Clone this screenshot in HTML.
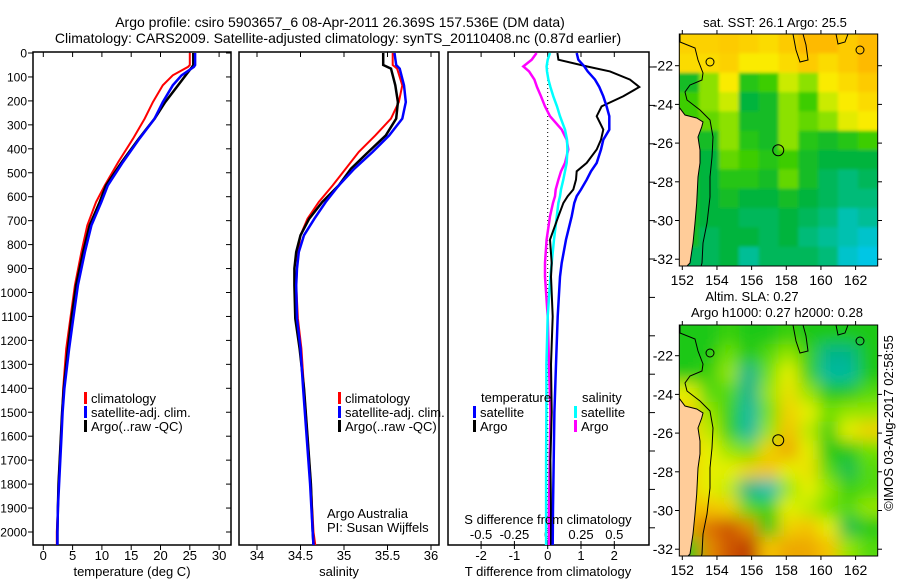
<!DOCTYPE html>
<html><head><meta charset="utf-8">
<style>
html,body{margin:0;padding:0;background:#fff;}
svg{display:block;font-family:"Liberation Sans",sans-serif;}
text{font-size:13px;fill:#000;}
</style></head>
<body>
<svg id="fig" width="900" height="580" viewBox="0 0 900 580" xmlns="http://www.w3.org/2000/svg">
<defs>
<clipPath id="c1"><rect x="33" y="52" width="198" height="493"/></clipPath>
<clipPath id="c2"><rect x="239" y="52" width="200" height="493"/></clipPath>
<clipPath id="c3"><rect x="448" y="52" width="201" height="493"/></clipPath>
<clipPath id="cm1"><rect x="679.3" y="34" width="198.4" height="232"/></clipPath>
<clipPath id="cm2"><rect x="679.3" y="325" width="198.4" height="231"/></clipPath>
<filter id="bl" x="-0.1" y="-0.1" width="1.2" height="1.2"><feGaussianBlur stdDeviation="8"/></filter>
<filter id="bl2" x="-0.1" y="-0.1" width="1.2" height="1.2"><feGaussianBlur stdDeviation="1.5"/></filter>
</defs>
<text x="340" y="27" text-anchor="middle" style="font-size:14px">Argo profile: csiro 5903657_6 08-Apr-2011 26.369S 157.536E (DM data)</text>
<text x="338" y="43" text-anchor="middle" style="font-size:14px">Climatology: CARS2009. Satellite-adjusted climatology: synTS_20110408.nc (0.87d earlier)</text>
<g id="p1"></g>
<g id="p2"></g>
<g id="p3"></g>
<g id="m1"></g>
<g id="m2"></g>
<text transform="translate(893,423) rotate(-90)" text-anchor="middle">©IMOS 03-Aug-2017 02:58:55</text>
</svg>
<script>
// ---- data ----
const tDepths = [0,50,58,93,135,205,274,358,455,553,623,720,831,970,1110,1235,1400,1500,1600,1700,1800,1900,2000,2055];
const tClim = [25.0,25.0,24.7,22.1,20.4,18.7,17.3,15.3,12.8,10.5,9.0,7.5,6.5,5.4,4.6,3.9,3.4,3.2,3.0,2.8,2.6,2.5,2.3,2.3];
const tSat = [25.9,25.9,25.7,23.6,22.1,20.4,19.0,16.4,13.6,11.0,9.9,8.2,7.1,5.9,5.1,4.4,3.6,3.3,3.1,2.9,2.7,2.5,2.4,2.4];
const tArgo = [25.6,25.6,25.4,24.3,23.0,20.8,19.0,16.3,13.4,10.7,9.6,7.9,6.8,5.6,4.8,4.2,3.5,3.2,3.0,2.8,2.6,2.5,2.4,2.4];
const sDepths = [0,50,65,135,205,274,344,413,483,553,622,692,761,831,900,970,1109,1234,1400,1600,1800,2000,2055];
const sClim = [35.56,35.56,35.61,35.67,35.63,35.54,35.36,35.17,35.02,34.87,34.71,34.58,34.50,34.47,34.46,34.45,34.47,34.51,34.54,34.58,34.62,34.65,34.67];
const sSat = [35.58,35.6,35.64,35.69,35.71,35.67,35.52,35.33,35.12,34.94,34.79,34.66,34.54,34.48,34.46,34.45,34.46,34.50,34.53,34.57,34.61,34.64,34.65];
const sArgo = [35.45,35.45,35.54,35.59,35.62,35.60,35.48,35.28,35.08,34.94,34.75,34.60,34.50,34.45,34.43,34.43,34.44,34.49,34.54,34.58,34.62,34.64,34.65];
const dDepths = [0,28,56,77,111,142,181,223,264,320,362,403,459,494,529,570,598,626,682,779,877,934,1100,1300,1500,1700,1900,2055];
const dTSat = [0.87,0.92,1.1,1.2,1.42,1.55,1.67,1.77,1.85,1.85,1.67,1.6,1.47,1.3,1.17,1.0,0.87,0.8,0.72,0.55,0.42,0.37,0.3,0.25,0.2,0.18,0.16,0.15];
const dTArgo = [0.29,0.32,1.17,1.87,2.47,2.75,2.27,1.62,1.47,1.67,1.6,1.47,1.17,0.87,0.85,0.77,0.6,0.47,0.32,0.07,0.12,0.1,0.15,0.1,0.12,0.08,0.1,0.1];
const dSSat = [0.017,0.0,-0.008,-0.005,0.005,0.02,0.042,0.07,0.092,0.13,0.145,0.148,0.143,0.13,0.117,0.1,0.092,0.08,0.068,0.047,0.03,0.02,0.0,-0.01,-0.01,-0.012,-0.012,-0.012];
const dSArgo = [-0.083,-0.12,-0.183,-0.14,-0.1,-0.08,-0.05,-0.02,0.017,0.105,0.143,0.155,0.13,0.1,0.08,0.06,0.055,0.04,0.017,-0.008,-0.02,-0.02,0.0,0.01,0.02,0.015,0.01,0.01];
const depthTicks = [0,100,200,300,400,500,600,700,800,900,1000,1100,1200,1300,1400,1500,1600,1700,1800,1900,2000];
const tempTicks = [0,5,10,15,20,25,30];
const salTicks = [34,34.5,35,35.5,36];
const salTickLabels = ["34","34.5","35","35.5","36"];
const dTTicks = [-2,-1,0,1,2];
const dSTicks = [-0.5,-0.25,0,0.25,0.5];
const lonTicks = [152,154,156,158,160,162];
const latTicks = [-22,-24,-26,-28,-30,-32];
const sstGrid = [
[0.88,0.88,0.9,0.88,0.85,0.9,0.95,0.95,0.9,0.95],
[0.85,0.85,0.88,0.8,0.8,0.85,0.9,0.85,0.9,0.95],
[0.4,0.6,0.8,0.45,0.5,0.7,0.6,0.8,0.85,0.9],
[0.5,0.6,0.7,0.35,0.4,0.6,0.5,0.7,0.8,0.85],
[0.5,0.55,0.6,0.4,0.4,0.6,0.55,0.6,0.75,0.8],
[0.4,0.4,0.6,0.45,0.4,0.6,0.45,0.4,0.45,0.5],
[0.4,0.35,0.55,0.5,0.45,0.5,0.4,0.35,0.35,0.35],
[0.4,0.35,0.45,0.45,0.4,0.55,0.4,0.3,0.25,0.3],
[0.4,0.35,0.4,0.35,0.35,0.4,0.35,0.3,0.25,0.25],
[0.4,0.35,0.35,0.3,0.3,0.35,0.3,0.25,0.15,0.2],
[0.4,0.3,0.35,0.35,0.3,0.35,0.25,0.2,0.15,0.1],
[0.3,0.3,0.35,0.2,0.3,0.3,0.3,0.25,0.1,0.05]];
const slaGrid = [
[0.3,0.3,0.35,0.3,0.3,0.35,0.3,0.3,0.3,0.3],
[0.3,0.3,0.45,0.3,0.4,0.5,0.35,0.2,0.2,0.3],
[0.3,0.35,0.5,0.2,0.45,0.6,0.35,0.15,0.15,0.3],
[0.6,0.4,0.4,0.2,0.5,0.65,0.5,0.3,0.3,0.4],
[0.7,0.5,0.35,0.15,0.45,0.7,0.6,0.45,0.5,0.5],
[0.7,0.55,0.35,0.15,0.5,0.75,0.55,0.35,0.6,0.7],
[0.7,0.6,0.5,0.45,0.7,0.8,0.6,0.3,0.3,0.45],
[0.7,0.6,0.6,0.7,0.75,0.6,0.65,0.4,0.25,0.4],
[0.7,0.6,0.55,0.2,0.1,0.5,0.6,0.5,0.35,0.4],
[0.75,0.75,0.7,0.4,0.35,0.6,0.55,0.45,0.4,0.5],
[0.8,0.9,0.95,0.85,0.3,0.7,0.75,0.6,0.25,0.3],
[0.3,0.85,0.95,1.0,0.75,0.8,0.8,0.75,0.5,0.4]];

const NS="http://www.w3.org/2000/svg";
function mk(parent,tag,attrs,txt){const e=document.createElementNS(NS,tag);for(const k in attrs)e.setAttribute(k,attrs[k]);if(txt!==undefined)e.textContent=txt;parent.appendChild(e);return e;}
const yD = d => 53 + 0.2395*d;
const xT = t => 43.3 + 5.86*t;
const xS = s => 257 + 87*(s-34);
const xDT = v => 547.7 + 33.3*v;
const xDS = v => 547.7 + 133.2*v;

function frame(g,x0,x1,name){
  const r=mk(g,'rect',{x:x0,y:52,width:x1-x0,height:493,fill:'none',stroke:'#000','stroke-width':1.5});
  
  
}
function series(g,clip,depths,vals,fx,color,name,w){
  const pts=depths.map((d,i)=>fx(vals[i]).toFixed(1)+','+yD(d).toFixed(1)).join(' ');
  const p=mk(g,'polyline',{points:pts,fill:'none',stroke:color,'stroke-width':w||2,'clip-path':'url(#'+clip+')'});
  
  
}
function legend(g,x,y,color,label,name){
  const b=mk(g,'rect',{x:x,y:y-6,width:3,height:12,fill:color});
  
  
  const t=mk(g,'text',{x:x+7,y:y+5},label);
  
  
}

// ---- panel 1 ----
const p1=document.getElementById('p1');
frame(p1,33,231,'temperature-axes');
depthTicks.forEach(d=>{
  const y=yD(d);
  mk(p1,'line',{x1:33,x2:28,y1:y,y2:y,stroke:'#000'});
  mk(p1,'line',{x1:231,x2:226,y1:y,y2:y,stroke:'#000'});
  const t=mk(p1,'text',{x:27,y:y+4.5,'text-anchor':'end',style:'font-size:12px'},String(d));
  
  
});
tempTicks.forEach(v=>{
  const x=xT(v);
  mk(p1,'line',{x1:x,x2:x,y1:52,y2:57,stroke:'#000'});
  mk(p1,'line',{x1:x,x2:x,y1:545,y2:550,stroke:'#000'});
  const t=mk(p1,'text',{x:x,y:560,'text-anchor':'middle'},String(v));
  
  
});
series(p1,'c1',tDepths,tClim,xT,'#ff0000','temp-climatology-line');
series(p1,'c1',tDepths,tArgo,xT,'#000000','temp-argo-line',2.5);
series(p1,'c1',tDepths,tSat,xT,'#0000ff','temp-satellite-line',2.5);
legend(p1,84,398,'#ff0000','climatology','legend-climatology');
legend(p1,84,412,'#0000ff','satellite-adj. clim.','legend-satellite');
legend(p1,84,426,'#000000','Argo(..raw -QC)','legend-argo');
{const t=mk(p1,'text',{x:132,y:576,'text-anchor':'middle'},'temperature (deg C)');}

// ---- panel 2 ----
const p2=document.getElementById('p2');
frame(p2,239,439,'salinity-axes');
salTicks.forEach((v,i)=>{
  const x=xS(v);
  mk(p2,'line',{x1:x,x2:x,y1:52,y2:57,stroke:'#000'});
  mk(p2,'line',{x1:x,x2:x,y1:545,y2:550,stroke:'#000'});
  const t=mk(p2,'text',{x:x,y:560,'text-anchor':'middle'},salTickLabels[i]);
  
  
});
series(p2,'c2',sDepths,sClim,xS,'#ff0000','sal-climatology-line');
series(p2,'c2',sDepths,sArgo,xS,'#000000','sal-argo-line',2.5);
series(p2,'c2',sDepths,sSat,xS,'#0000ff','sal-satellite-line',2.5);
legend(p2,338,398,'#ff0000','climatology','legend-climatology-2');
legend(p2,338,412,'#0000ff','satellite-adj. clim.','legend-satellite-2');
legend(p2,338,426,'#000000','Argo(..raw -QC)','legend-argo-2');
{let t=mk(p2,'text',{x:327,y:518},'Argo Australia');
 t=mk(p2,'text',{x:327,y:532},'PI: Susan Wijffels');
 t=mk(p2,'text',{x:339,y:576,'text-anchor':'middle'},'salinity');}

// ---- panel 3 ----
const p3=document.getElementById('p3');
frame(p3,448,649,'difference-axes');
mk(p3,'line',{x1:547.7,x2:547.7,y1:52,y2:545,stroke:'#000','stroke-dasharray':'1,3'});
for(let y=67;y<546;y+=38.4){mk(p3,'line',{x1:649,x2:655,y1:y,y2:y,stroke:'#000'});}
dTTicks.forEach(v=>{
  const x=xDT(v);
  mk(p3,'line',{x1:x,x2:x,y1:541,y2:549,stroke:'#000'});
  mk(p3,'line',{x1:x,x2:x,y1:52,y2:57,stroke:'#000'});
  const t=mk(p3,'text',{x:x,y:560,'text-anchor':'middle'},String(v));
  
  
});
dSTicks.forEach(v=>{
  const t=mk(p3,'text',{x:xDS(v),y:539,'text-anchor':'middle'},String(v));
  
  
});
series(p3,'c3',dDepths,dSArgo,xDS,'#ff00ff','s-diff-argo-line',2.5);
series(p3,'c3',dDepths,dSSat,xDS,'#00ffff','s-diff-satellite-line',2.5);
series(p3,'c3',dDepths,dTArgo,xDT,'#000000','t-diff-argo-line',2);
series(p3,'c3',dDepths,dTSat,xDT,'#0000ff','t-diff-satellite-line',2.5);
{let t=mk(p3,'text',{x:481,y:402},'temperature');
 t=mk(p3,'text',{x:582,y:402},'salinity');}
legend(p3,473,412,'#0000ff','satellite','legend-t-satellite');
legend(p3,473,426,'#000000','Argo','legend-t-argo');
legend(p3,574,412,'#00ffff','satellite','legend-s-satellite');
legend(p3,574,426,'#ff00ff','Argo','legend-s-argo');
{let t=mk(p3,'text',{x:548,y:524,'text-anchor':'middle'},'S difference from climatology');
 t=mk(p3,'text',{x:548,y:576,'text-anchor':'middle'},'T difference from climatology');}

// ---- maps ----
function lerpC(stops,v){
  v=Math.max(0,Math.min(1,v));
  for(let i=0;i<stops.length-1;i++){const a=stops[i],b=stops[i+1];if(v<=b[0]){const f=(v-a[0])/(b[0]-a[0]);return 'rgb('+[1,2,3].map(k=>Math.round(a[k]+(b[k]-a[k])*f)).join(',')+')';}}
  const l=stops[stops.length-1];return 'rgb('+l[1]+','+l[2]+','+l[3]+')';
}
const sstStops=[[0,0,200,255],[0.2,0,190,150],[0.35,0,180,60],[0.5,60,205,0],[0.65,180,235,0],[0.8,250,235,0],[1,255,170,0]];
const slaStops=[[0,0,200,220],[0.2,0,180,140],[0.3,30,200,20],[0.45,110,225,0],[0.6,230,240,0],[0.75,245,195,0],[0.9,220,110,0],[1,190,60,0]];
const lonX = l => 682.3 + 17.33*(l-152);
function drawMap(id,top,bot,latY0,grid,stops,clip,filt,titles){
  const g=document.getElementById(id);
  const latY = la => latY0 + 19.35*(-22-la);
  const cg=mk(g,'g',{'clip-path':'url(#'+clip+')'});
  const cells=mk(cg,'g',{filter:'url(#'+filt+')'});
  const rows=grid.length, cols=grid[0].length;
  const x0=679.3,w=198.4/cols,h=(bot-top)/rows;
  const ex=16;
  grid.forEach((row,r)=>row.forEach((v,c)=>{
    const cell=mk(cells,'rect',{x:(x0+c*w-(c===0?ex:0)).toFixed(1),y:(top+r*h-(r===0?ex:0)).toFixed(1),width:(w+0.6+((c===0||c===cols-1)?ex:0)).toFixed(1),height:(h+0.6+((r===0||r===rows-1)?ex:0)).toFixed(1),fill:lerpC(stops,v)});
    
    
  }));
  const o=top-34;
  const land=[[679,107],[685,115],[696.7,118],[703,122],[701.7,127],[698,137],[700,150],[700,163],[698,177],[696.7,203],[695,223],[693,243],[690,263],[685,268],[679,268]];
  const lp=mk(cg,'polygon',{points:land.map(p=>p[0]+','+(p[1]+o)).join(' '),fill:'#ffcc99',stroke:'#000','stroke-width':1});
  
  
  const iso=[[680,34],[680,42],[695,48],[698,60],[703,73],[702,80],[690,85],[685,92],[687,100],[700,110],[710,120],[713,137],[712,157],[710,177],[710,197],[707,223],[703,243],[702,263],[700,270]];
  mk(cg,'polyline',{points:iso.map(p=>p[0]+','+(p[1]+o)).join(' '),fill:'none',stroke:'#000','stroke-width':1});
  mk(cg,'polyline',{points:[[793,34],[796,50],[800,62],[808,60],[806,45],[803,34]].map(p=>p[0]+','+(p[1]+o)).join(' '),fill:'none',stroke:'#000'});
  mk(cg,'polyline',{points:[[836,34],[838,44],[845,42],[848,34]].map(p=>p[0]+','+(p[1]+o)).join(' '),fill:'none',stroke:'#000'});
  mk(cg,'ellipse',{cx:710,cy:62+o,rx:4,ry:4,fill:'none',stroke:'#000'});
  mk(cg,'ellipse',{cx:860,cy:50+o,rx:4,ry:4,fill:'none',stroke:'#000'});
  const mk1=mk(cg,'circle',{cx:lonX(157.536),cy:latY(-26.369),r:5.5,fill:'none',stroke:'#000','stroke-width':1});
  
  
  mk(g,'rect',{x:679.3,y:top,width:198.4,height:bot-top,fill:'none',stroke:'#000','stroke-width':1});
  lonTicks.forEach(l=>{const x=lonX(l);
    mk(g,'line',{x1:x,x2:x,y1:top,y2:top-4,stroke:'#000'});
    mk(g,'line',{x1:x,x2:x,y1:bot,y2:bot+4,stroke:'#000'});
    const t=mk(g,'text',{x:x,y:bot+19,'text-anchor':'middle',style:'font-size:14px'},String(l));
    
    });
  latTicks.forEach(la=>{const y=latY(la);
    mk(g,'line',{x1:679.3,x2:675,y1:y,y2:y,stroke:'#000'});
    mk(g,'line',{x1:877.7,x2:882,y1:y,y2:y,stroke:'#000'});
    const t=mk(g,'text',{x:673,y:y+5,'text-anchor':'end',style:'font-size:14px'},String(la));
    
    });
  titles.forEach(tt=>{const t=mk(g,'text',{x:tt[0],y:tt[1],'text-anchor':'middle'},tt[2]);
    
    });
}
drawMap('m1',34,266,65.7,sstGrid,sstStops,'cm1','bl2',[[775,27,'sat. SST: 26.1 Argo: 25.5','sst-map-title']]);
drawMap('m2',325,556,355.7,slaGrid,slaStops,'cm2','bl',[[752,301,'Altim. SLA: 0.27','sla-map-title'],[777,317,'Argo h1000: 0.27 h2000: 0.28','sla-map-subtitle']]);
</script>
</body></html>
